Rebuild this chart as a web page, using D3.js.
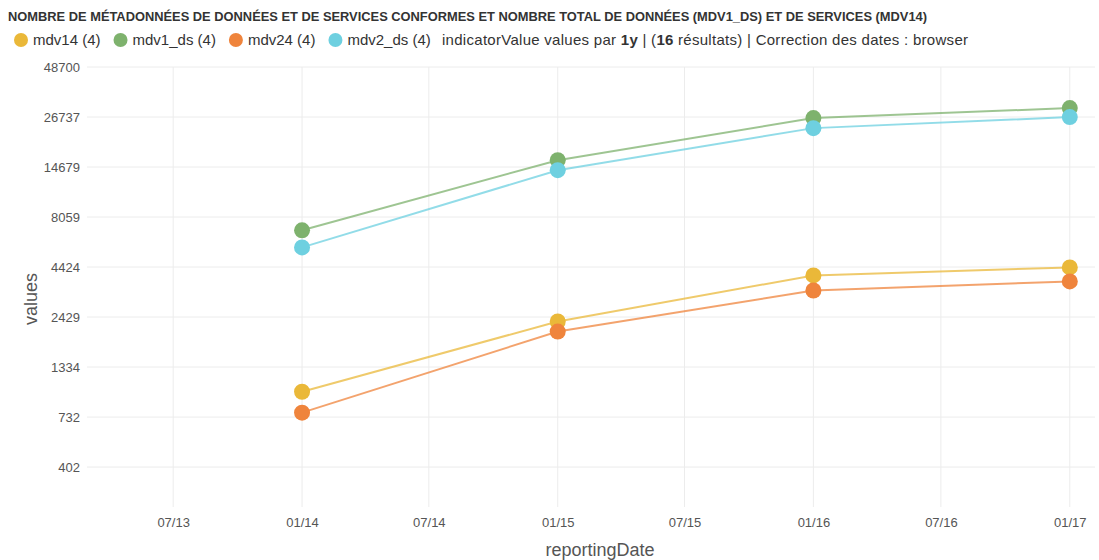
<!DOCTYPE html>
<html>
<head>
<meta charset="utf-8">
<script src="https://cdn.jsdelivr.net/npm/d3@7"></script>
<style>
  body { margin: 0; background: #fff; font-family: "Liberation Sans", Arial, sans-serif; }
  .grid line { stroke: #ececec; }
  .tick text { fill: #555; font-size: 13px; }
</style>
</head>
<body>
<div id="chart"></div>
<script>
// data
const dates = ["2014-01-01", "2015-01-01", "2016-01-01", "2017-01-01"];
const seriesNames = ["mdv14", "mdv1_ds", "mdv24", "mdv2_ds"];
const seriesColors = ["#EAB839", "#7EB26D", "#EF843C", "#6ED0E0"];
const mdv14 = [992, 2302, 4002, 4404];
const mdv1_ds = [6870, 15930, 26390, 29755];
const mdv24 = [772, 2041, 3340, 3723];
const mdv2_ds = [5600, 14128, 23400, 26705];
const yTicks = [402, 732, 1334, 2429, 4424, 8059, 14679, 26737, 48700];
const xTicks = ["2013-07-01", "2014-01-01", "2014-07-01", "2015-01-01", "2015-07-01", "2016-01-01", "2016-07-01", "2017-01-01"];

const seriesValues = [mdv14, mdv1_ds, mdv24, mdv2_ds];

const width = 1099, height = 560;
const margin = {top: 67, right: 4, bottom: 53, left: 87};

const svg = d3.select("#chart").append("svg")
    .attr("width", width)
    .attr("height", height);

const parse = d3.utcParse("%Y-%m-%d");

const xScale = d3.scaleUtc()
  .domain([Date.UTC(2013, 1, 28), Date.UTC(2017, 1, 6)])
  .range([margin.left, width - margin.right]);

const yScale = d3.scaleLog()
  .domain([249, 48700])
  .range([height - margin.bottom, margin.top]);

// grid
svg.append("g").attr("class", "grid")
  .selectAll("line.h")
  .data(yTicks)
  .enter().append("line")
    .attr("x1", margin.left).attr("x2", width - margin.right)
    .attr("y1", d => yScale(d)).attr("y2", d => yScale(d));

svg.append("g").attr("class", "grid")
  .selectAll("line.v")
  .data(xTicks)
  .enter().append("line")
    .attr("x1", d => xScale(parse(d))).attr("x2", d => xScale(parse(d)))
    .attr("y1", margin.top).attr("y2", height - margin.bottom);

// axes
const yAxis = svg.append("g")
    .attr("transform", `translate(${margin.left},0)`)
    .call(d3.axisLeft(yScale).tickValues(yTicks).tickFormat(d3.format("d")).tickSize(0).tickPadding(7));
yAxis.select(".domain").remove();

const xAxis = svg.append("g")
    .attr("transform", `translate(0,${height - margin.bottom})`)
    .call(d3.axisBottom(xScale).tickValues(xTicks.map(parse)).tickFormat(d3.utcFormat("%m/%y")).tickSize(0).tickPadding(11));
xAxis.select(".domain").remove();

svg.append("text")
  .attr("transform", "translate(37,299) rotate(-90)")
  .attr("text-anchor", "middle")
  .attr("fill", "#555")
  .style("font-size", "18px")
  .text("values");

svg.append("text")
  .attr("x", 600)
  .attr("y", 556)
  .attr("text-anchor", "middle")
  .attr("fill", "#555")
  .style("font-size", "18px")
  .text("reportingDate");

// lines + dots
const line = d3.line()
  .x((d, i) => xScale(parse(dates[i])))
  .y(d => yScale(d));

seriesValues.forEach((vals, si) => {
  svg.append("path")
    .datum(vals)
    .attr("d", line)
    .attr("fill", "none")
    .attr("stroke", seriesColors[si])
    .attr("stroke-opacity", 0.75)
    .attr("stroke-width", 2);
});

seriesValues.forEach((vals, si) => {
  svg.append("g").selectAll("circle")
    .data(vals)
    .enter().append("circle")
      .attr("cx", (d, i) => xScale(parse(dates[i])))
      .attr("cy", d => yScale(d))
      .attr("r", 8)
      .attr("fill", seriesColors[si]);
});

// title
svg.append("text")
  .attr("x", 8)
  .attr("y", 21)
  .attr("fill", "#333")
  .attr("textLength", 919)
  .attr("lengthAdjust", "spacingAndGlyphs")
  .style("font-size", "12px")
  .style("font-weight", "bold")
  .text("NOMBRE DE MÉTADONNÉES DE DONNÉES ET DE SERVICES CONFORMES ET NOMBRE TOTAL DE DONNÉES (MDV1_DS) ET DE SERVICES (MDV14)");

// legend
const legend = svg.append("g").attr("transform", "translate(0,40)");
let lx = 21;
seriesNames.forEach((name, si) => {
  legend.append("circle").attr("cx", lx).attr("cy", 0).attr("r", 7).attr("fill", seriesColors[si]);
  const t = legend.append("text")
    .attr("x", lx + 12).attr("y", 5)
    .attr("fill", "#333")
    .style("font-size", "15px")
    .text(`${name} (${seriesValues[si].length})`);
  lx = lx + 12 + t.node().getComputedTextLength() + 20;
});

const info = legend.append("text")
  .attr("x", 442).attr("y", 5)
  .attr("fill", "#333")
  .attr("textLength", 526)
  .style("font-size", "15px");
info.append("tspan").text("indicatorValue values par ");
info.append("tspan").style("font-weight", "bold").text("1y");
info.append("tspan").text(" | (");
info.append("tspan").style("font-weight", "bold").text("16");
info.append("tspan").text(" résultats) | Correction des dates : browser");
</script>
</body>
</html>
